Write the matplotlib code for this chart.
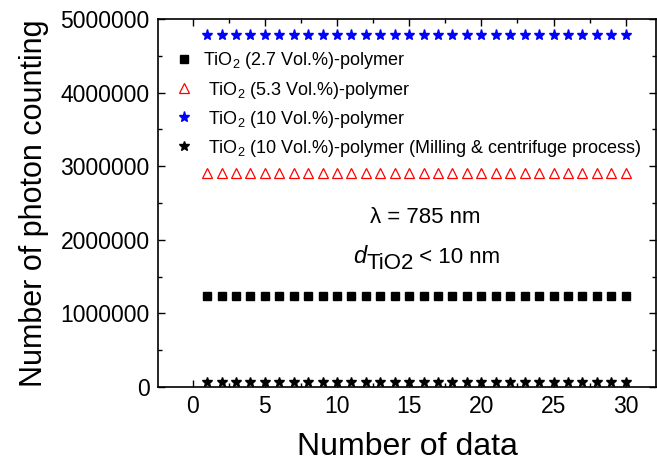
import matplotlib.pyplot as plt
from matplotlib.ticker import MultipleLocator, FormatStrFormatter

plt.rcParams['font.family'] = ['Liberation Sans', 'DejaVu Sans']
plt.rcParams['mathtext.fontset'] = 'custom'
plt.rcParams['mathtext.rm'] = 'Liberation Sans'
plt.rcParams['mathtext.it'] = 'Liberation Sans:italic'

# data: 30 measurements per sample
n_data = list(range(1, 31))
tio2_27 = [1240000] * 30
tio2_53 = [2910000] * 30
tio2_10 = [4780000] * 30
tio2_10_milled = [70000] * 30

labels = ['TiO$_2$ (2.7 Vol.%)-polymer',
          ' TiO$_2$ (5.3 Vol.%)-polymer',
          ' TiO$_2$ (10 Vol.%)-polymer',
          ' TiO$_2$ (10 Vol.%)-polymer (Milling & centrifuge process)']

fig = plt.figure(figsize=(6.57, 4.63), dpi=100)
ax = fig.add_axes([0.2405, 0.164, 0.758, 0.795])

ax.plot(n_data, tio2_27, 's', color='black', ms=6, ls='none', label=labels[0])
ax.plot(n_data, tio2_53, '^', mfc='none', mec='red', mew=0.9, ms=7.5, ls='none', label=labels[1])
ax.plot(n_data, tio2_10, '*', color='blue', ms=8, ls='none', label=labels[2])
ax.plot(n_data, tio2_10_milled, '*', color='black', ms=7, ls='none', label=labels[3])

ax.set_xlim(-2.4, 32.1)
ax.set_ylim(0, 5000000)
ax.xaxis.set_major_locator(MultipleLocator(5))
ax.xaxis.set_minor_locator(MultipleLocator(2.5))
ax.yaxis.set_major_locator(MultipleLocator(1000000))
ax.yaxis.set_minor_locator(MultipleLocator(500000))
ax.yaxis.set_major_formatter(FormatStrFormatter('%d'))
ax.tick_params(which='both', direction='in', top=True, right=True, labelsize=16.5, width=1)
ax.tick_params(which='major', length=5)
ax.tick_params(which='minor', length=3)
ax.tick_params(axis='x', pad=6)
ax.tick_params(axis='y', pad=6)
for s in ax.spines.values():
    s.set_linewidth(1.2)

ax.set_xlabel('Number of data', fontsize=23, labelpad=10)
ax.set_ylabel('Number of photon counting', fontsize=22, labelpad=8)

ax.legend(loc='upper left', bbox_to_anchor=(0.0, 0.949), frameon=False, fontsize=13,
          handletextpad=0.3, labelspacing=0.45, borderaxespad=0.3, handlelength=1.5)

ax.text(16.1, 2300000, 'λ = 785 nm', fontsize=16, ha='center', va='center')
t1 = ax.text(11.1, 1770000, 'd', fontsize=17, style='italic', ha='left', va='center')
t2 = ax.annotate('TiO2', xy=(1, 0), xycoords=t1, xytext=(0, -4),
                 textcoords='offset points', fontsize=16, ha='left', va='bottom')
ax.annotate(' < 10 nm', xy=(1, 0), xycoords=t2, xytext=(0, 4),
            textcoords='offset points', fontsize=16, ha='left', va='bottom')

fig.savefig('out.png', dpi=100)
